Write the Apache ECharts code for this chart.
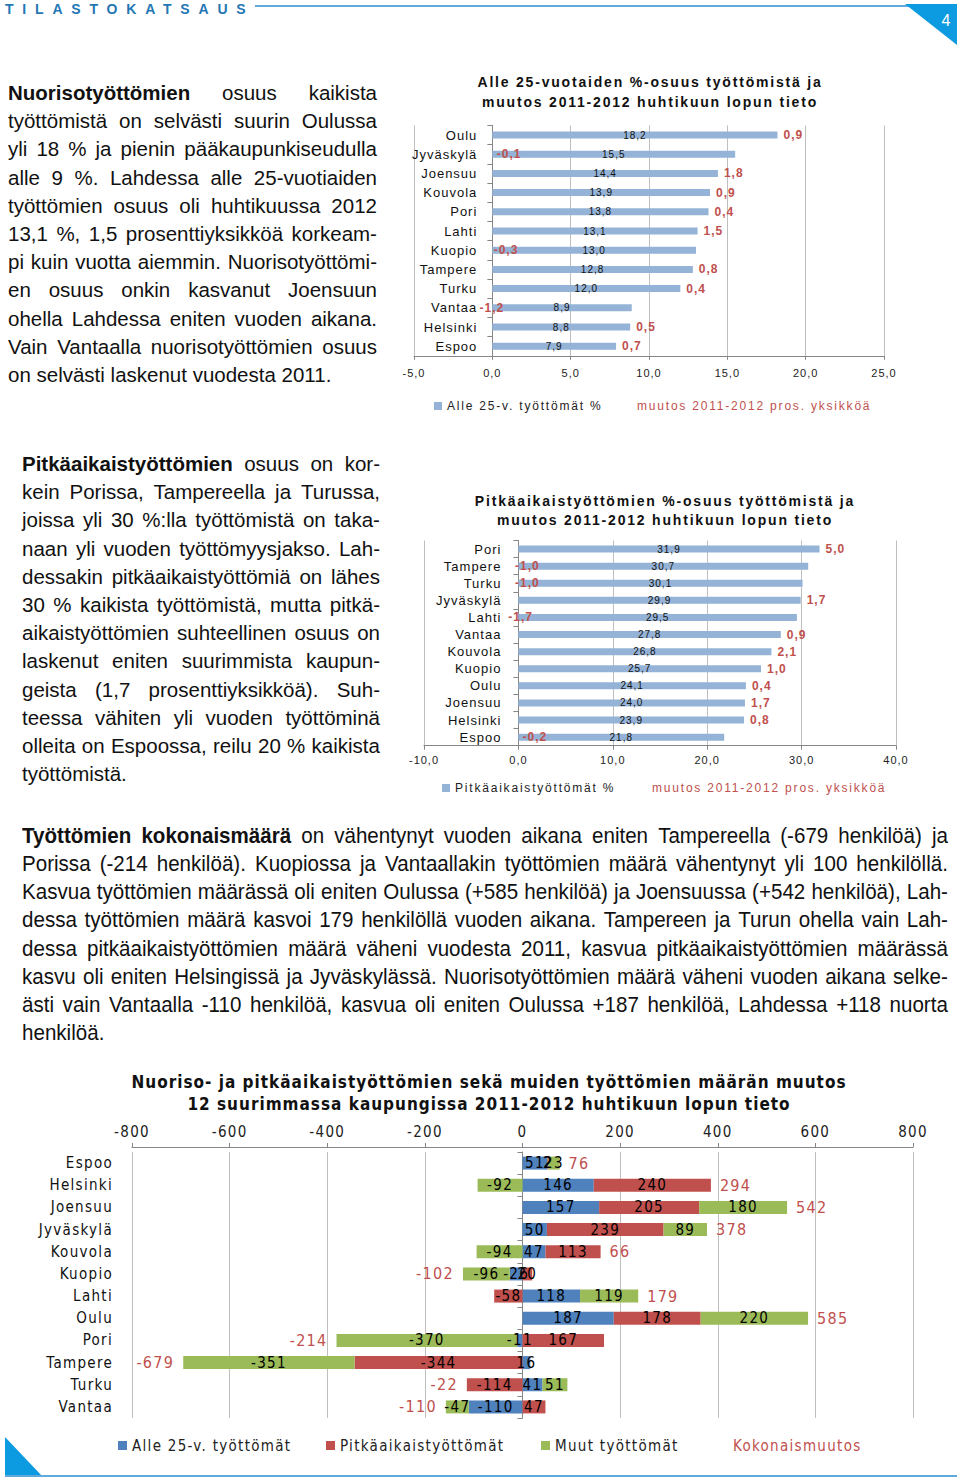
<!DOCTYPE html>
<html>
<head>
<meta charset="utf-8">
<script src="https://cdn.jsdelivr.net/npm/echarts/dist/echarts.min.js"></script>
<style>
  html, body { margin: 0; padding: 0; background: #fff; }
  #page { position: relative; width: 960px; height: 1479px; overflow: hidden; }
  #chart { position: absolute; left: 0; top: 0; width: 960px; height: 1479px; }
  .ln { position: absolute; white-space: nowrap; color: #111; }
  .jl { display: flex; justify-content: space-between; }
  .hdr { position: absolute; left: 5px; top: 1px; font: bold 14px 'Liberation Sans', Arial, sans-serif; letter-spacing: 8.8px; color: #2577B4; }
  #chart text[style*="xspA"] { letter-spacing: 1px; }
  #chart text[style*="xspB"] { letter-spacing: 1.8px; }
  #chart text[style*="xspC"] { letter-spacing: 1.3px; }
</style>
</head>
<body>
<div id="page">
  <div id="chart"></div>
  <div class="hdr">TILASTOKATSAUS</div>
</div>
<script>
// ---------------- DATA ----------------
const youthCities = ['Oulu','Jyväskylä','Joensuu','Kouvola','Pori','Lahti','Kuopio','Tampere','Turku','Vantaa','Helsinki','Espoo'];
const youthShare  = [18.2, 15.5, 14.4, 13.9, 13.8, 13.1, 13.0, 12.8, 12.0, 8.9, 8.8, 7.9];
const youthChange = [0.9, -0.1, 1.8, 0.9, 0.4, 1.5, -0.3, 0.8, 0.4, -1.2, 0.5, 0.7];
const youthTicks  = [-5, 25, 5];

const longCities = ['Pori','Tampere','Turku','Jyväskylä','Lahti','Vantaa','Kouvola','Kuopio','Oulu','Joensuu','Helsinki','Espoo'];
const longShare  = [31.9, 30.7, 30.1, 29.9, 29.5, 27.8, 26.8, 25.7, 24.1, 24.0, 23.9, 21.8];
const longChange = [5.0, -1.0, -1.0, 1.7, -1.7, 0.9, 2.1, 1.0, 0.4, 1.7, 0.8, -0.2];
const longTicks  = [-10, 40, 10];

const cities      = ['Espoo','Helsinki','Joensuu','Jyväskylä','Kouvola','Kuopio','Lahti','Oulu','Pori','Tampere','Turku','Vantaa'];
const youthCount  = [51, 146, 157, 50, 47, -26, 118, 187, -11, 16, 41, -110];
const longCount   = [2, 240, 205, 239, 113, 20, -58, 178, 167, -344, -114, 47];
const otherCount  = [23, -92, 180, 89, -94, -96, 119, 220, -370, -351, 51, -47];
const totalCount  = [76, 294, 542, 378, 66, -102, 179, 585, -214, -679, -22, -110];
const countTicks  = [-800, 800, 200];

// ---------------- TEXT ----------------
const para1 = [
  '**Nuorisotyöttömien** osuus kaikista',
  'työttömistä on selvästi suurin Oulussa',
  'yli 18 % ja pienin pääkaupunkiseudulla',
  'alle 9 %. Lahdessa alle 25-vuotiaiden',
  'työttömien osuus oli huhtikuussa 2012',
  '13,1 %, 1,5 prosenttiyksikköä korkeam-',
  'pi kuin vuotta aiemmin. Nuorisotyöttömi-',
  'en osuus onkin kasvanut Joensuun',
  'ohella Lahdessa eniten vuoden aikana.',
  'Vain Vantaalla nuorisotyöttömien osuus',
  'on selvästi laskenut vuodesta 2011.'
];
const para2 = [
  '**Pitkäaikaistyöttömien** osuus on kor-',
  'kein Porissa, Tampereella ja Turussa,',
  'joissa yli 30 %:lla työttömistä on taka-',
  'naan yli vuoden työttömyysjakso. Lah-',
  'dessakin pitkäaikaistyöttömiä on lähes',
  '30 % kaikista työttömistä, mutta pitkä-',
  'aikaistyöttömien suhteellinen osuus on',
  'laskenut eniten suurimmista kaupun-',
  'geista (1,7 prosenttiyksikköä). Suh-',
  'teessa vähiten yli vuoden työttöminä',
  'olleita on Espoossa, reilu 20 % kaikista',
  'työttömistä.'
];
const para3 = [
  '**Työttömien** **kokonaismäärä** on vähentynyt vuoden aikana eniten Tampereella (-679 henkilöä) ja',
  'Porissa (-214 henkilöä). Kuopiossa ja Vantaallakin työttömien määrä vähentynyt yli 100 henkilöllä.',
  'Kasvua työttömien määrässä oli eniten Oulussa (+585 henkilöä) ja Joensuussa (+542 henkilöä), Lah-',
  'dessa työttömien määrä kasvoi 179 henkilöllä vuoden aikana. Tampereen ja Turun ohella vain Lah-',
  'dessa pitkäaikaistyöttömien määrä väheni vuodesta 2011, kasvua pitkäaikaistyöttömien määrässä',
  'kasvu oli eniten Helsingissä ja Jyväskylässä. Nuorisotyöttömien määrä väheni vuoden aikana selke-',
  'ästi vain Vantaalla -110 henkilöä, kasvua oli eniten Oulussa +187 henkilöä, Lahdessa +118 nuorta',
  'henkilöä.'
];

function addPara(lines, left, width, firstY, lh, fontSize, family, scaleX) {
  const page = document.getElementById('page');
  const sx0 = scaleX || 1;
  lines.forEach((line, i) => {
    const last = i === lines.length - 1;
    const d = document.createElement('div');
    d.className = 'ln' + (last ? '' : ' jl');
    d.style.left = left + 'px';
    d.style.top = (firstY + i * lh - lh / 2) + 'px';
    d.style.height = lh + 'px';
    d.style.lineHeight = lh + 'px';
    d.style.fontSize = fontSize + 'px';
    d.style.fontFamily = family;
    d.style.transformOrigin = '0 0';
    const words = line.split(/\s+/).filter(Boolean).map(w => {
      const bold = w.indexOf('**') >= 0;
      return '<span' + (bold ? ' style="font-weight:bold"' : '') + '>' + w.replace(/\*\*/g, '') + '</span>';
    });
    d.innerHTML = last ? words.join(' ') : words.join('');
    page.appendChild(d);
    let sx = sx0;
    if (!last) {
      // natural width of the words with ordinary spaces; shrink the line if it would not fit
      let natural = 0;
      Array.from(d.children).forEach(c => { natural += c.offsetWidth; });
      natural += (d.children.length - 1) * fontSize * 0.278;
      if (natural * sx > width) sx = width / natural;
      d.style.width = (width / sx) + 'px';
    }
    if (sx !== 1) d.style.transform = 'scaleX(' + sx + ')';
  });
}

const SANS = "'Liberation Sans', Arial, sans-serif";
addPara(para1, 8, 369, 93, 28.2, 20.5, SANS);
addPara(para2, 22, 358, 464, 28.2, 20.5, SANS);
addPara(para3, 22, 926, 836, 28.15, 22, SANS, 0.935);

// ---------------- CHART ----------------
const FA = "'Liberation Sans', xspA, sans-serif";       // 1px letter spacing
const FB = "'Liberation Sans', xspB, sans-serif";       // 1.8px letter spacing
const NA = "'DejaVu Sans Condensed', xspC, sans-serif"; // condensed, 1.3px
const NT = "'DejaVu Sans Condensed', xspA, sans-serif";
const RED = '#C0504D';
const fmt1 = v => Number(v).toFixed(1).replace('.', ',');
const chart = echarts.init(document.getElementById('chart'), null, { renderer: 'svg' });

const axisGray = '#868686';
const gridGray = '#BFBFBF';

function valueAxis(gi, ticks, pos, fmt, fs, fam, margin) {
  return {
    gridIndex: gi, type: 'value', position: pos,
    min: ticks[0], max: ticks[1], interval: ticks[2],
    axisLine: { show: true, onZero: false, lineStyle: { color: axisGray } },
    axisTick: { show: true, length: 4, lineStyle: { color: axisGray } },
    axisLabel: { formatter: fmt, fontSize: fs, fontFamily: fam, color: '#222', margin: margin },
    splitLine: { show: true, showMinLine: true, showMaxLine: true, lineStyle: { color: gridGray, width: 1 } }
  };
}
const grids = [
  { left: 414, top: 125.4, width: 470, height: 230.4 },
  { left: 424, top: 540.5, width: 472, height: 205.2 },
  { left: 132, top: 1152, width: 781, height: 266 }
];
// distance from the grid's left edge to the value 0 on each value axis
const zeroOffset = (g, t) => (0 - t[0]) / (t[1] - t[0]) * g.width;

function catAxis(gi, data, ticks, margin, fs, fam) {
  return {
    gridIndex: gi, type: 'category', data: data, inverse: true, position: 'left',
    offset: -zeroOffset(grids[gi], ticks),
    axisLine: { show: true, onZero: false, lineStyle: { color: axisGray } },
    axisTick: { show: true, length: 5, lineStyle: { color: axisGray } },
    axisLabel: { margin: margin, fontSize: fs, fontFamily: fam, color: '#111' },
    splitLine: { show: false }
  };
}

const legendBase = { itemWidth: 8, itemHeight: 8, padding: 0, selectedMode: false };
const option = {
  animation: false,
  backgroundColor: '#fff',
  title: [
    { text: 'Alle 25-vuotaiden %-osuus työttömistä ja\nmuutos 2011-2012 huhtikuun lopun tieto',
      left: 650, top: 72, textAlign: 'center', padding: 0,
      textStyle: { fontSize: 14, fontWeight: 'bold', lineHeight: 20, fontFamily: FB, color: '#111' } },
    { text: 'Pitkäaikaistyöttömien %-osuus työttömistä ja\nmuutos 2011-2012 huhtikuun lopun tieto',
      left: 665, top: 491, textAlign: 'center', padding: 0,
      textStyle: { fontSize: 14, fontWeight: 'bold', lineHeight: 19, fontFamily: FB, color: '#111' } },
    { text: 'Nuoriso- ja pitkäaikaistyöttömien sekä muiden työttömien määrän muutos\n12 suurimmassa kaupungissa 2011-2012 huhtikuun lopun tieto',
      left: 489, top: 1071, textAlign: 'center', padding: 0,
      textStyle: { fontSize: 17, fontWeight: 'bold', lineHeight: 22, fontFamily: NT, color: '#111' } }
  ],
  legend: [
    Object.assign({ left: 434, top: 400, data: [{ name: 'Alle 25-v. työttömät %', icon: 'rect' }],
      textStyle: { fontSize: 12, fontFamily: FB, color: '#222' } }, legendBase),
    Object.assign({ left: 624, top: 400, data: [{ name: 'muutos 2011-2012 pros. yksikköä', icon: 'none' }],
      textStyle: { fontSize: 12, fontFamily: FB, color: RED } }, legendBase),
    Object.assign({ left: 442, top: 782, data: [{ name: 'Pitkäaikaistyöttömät %', icon: 'rect' }],
      textStyle: { fontSize: 12, fontFamily: FB, color: '#222' } }, legendBase),
    Object.assign({ left: 639, top: 782, data: [{ name: 'muutos 2011-2012 pros. yksikköä', icon: 'none' }],
      textStyle: { fontSize: 12, fontFamily: FB, color: RED } }, legendBase),
    Object.assign({ left: 118, top: 1438, data: [{ name: 'Alle 25-v. työttömät', icon: 'rect' }],
      textStyle: { fontSize: 15, fontFamily: NA, color: '#222' } }, legendBase, { itemWidth: 9, itemHeight: 9 }),
    Object.assign({ left: 326, top: 1438, data: [{ name: 'Pitkäaikaistyöttömät', icon: 'rect' }],
      textStyle: { fontSize: 15, fontFamily: NA, color: '#222' } }, legendBase, { itemWidth: 9, itemHeight: 9 }),
    Object.assign({ left: 541, top: 1438, data: [{ name: 'Muut työttömät', icon: 'rect' }],
      textStyle: { fontSize: 15, fontFamily: NA, color: '#222' } }, legendBase, { itemWidth: 9, itemHeight: 9 }),
    Object.assign({ left: 719, top: 1438, data: [{ name: 'Kokonaismuutos', icon: 'none' }],
      textStyle: { fontSize: 15, fontFamily: NA, color: RED } }, legendBase, { itemWidth: 9, itemHeight: 9 })
  ],
  grid: grids.map(g => Object.assign({ outerBoundsMode: 'none' }, g)),
  xAxis: [
    valueAxis(0, youthTicks, 'bottom', fmt1, 11, FA, 12),
    valueAxis(1, longTicks, 'bottom', fmt1, 11, FA, 9),
    Object.assign(valueAxis(2, countTicks, 'top', v => String(v), 15, NA, 8), { offset: 5 })
  ],
  yAxis: [
    catAxis(0, youthCities, youthTicks, 15, 13, FA),
    catAxis(1, longCities, longTicks, 17, 13, FA),
    { gridIndex: 2, type: 'category', data: cities, inverse: true, position: 'left',
      axisLine: { show: false, onZero: false }, axisTick: { show: false },
      axisLabel: { margin: 19, fontSize: 15, fontFamily: NA, color: '#111' },
      splitLine: { show: false } },
    Object.assign(catAxis(2, cities, countTicks, 10, 15, NA), { axisLabel: { show: false } })
  ],
  series: [
    { type: 'bar', name: 'Alle 25-v. työttömät %', xAxisIndex: 0, yAxisIndex: 0, stack: 'y1',
      data: youthShare, barWidth: 7, itemStyle: { color: '#95B3D7' },
      label: { show: true, position: 'inside', formatter: p => fmt1(p.value), fontSize: 10, fontFamily: FA, color: '#111' } },
    { type: 'bar', name: 'muutos 2011-2012 pros. yksikköä', xAxisIndex: 0, yAxisIndex: 0, stack: 'y1',
      data: youthChange, barWidth: 7, itemStyle: { color: 'rgba(0,0,0,0)' },
      label: { show: true, position: 'insideLeft', distance: 6, formatter: p => fmt1(p.value), fontSize: 12, fontWeight: 'bold', fontFamily: FA, color: RED } },

    { type: 'bar', name: 'Pitkäaikaistyöttömät %', xAxisIndex: 1, yAxisIndex: 1, stack: 'l1',
      data: longShare, barWidth: 7, itemStyle: { color: '#95B3D7' },
      label: { show: true, position: 'inside', formatter: p => fmt1(p.value), fontSize: 10, fontFamily: FA, color: '#111' } },
    { type: 'bar', name: 'muutos 2011-2012 pros. yksikköä', xAxisIndex: 1, yAxisIndex: 1, stack: 'l1',
      data: longChange, barWidth: 7, itemStyle: { color: 'rgba(0,0,0,0)' },
      label: { show: true, position: 'insideLeft', distance: 6, formatter: p => fmt1(p.value), fontSize: 12, fontWeight: 'bold', fontFamily: FA, color: RED } },

    { type: 'bar', name: 'Alle 25-v. työttömät', xAxisIndex: 2, yAxisIndex: 2, stack: 'c3',
      data: youthCount, barWidth: 13, itemStyle: { color: '#4F81BD' },
      label: { show: true, position: 'inside', fontSize: 15, fontFamily: NA, color: '#000' } },
    { type: 'bar', name: 'Pitkäaikaistyöttömät', xAxisIndex: 2, yAxisIndex: 2, stack: 'c3',
      data: longCount, barWidth: 13, itemStyle: { color: '#C0504D' },
      label: { show: true, position: 'inside', fontSize: 15, fontFamily: NA, color: '#000' } },
    { type: 'bar', name: 'Muut työttömät', xAxisIndex: 2, yAxisIndex: 2, stack: 'c3',
      data: otherCount, barWidth: 13, itemStyle: { color: '#9BBB59' },
      label: { show: true, position: 'inside', fontSize: 15, fontFamily: NA, color: '#000' } },
    { type: 'bar', name: 'Kokonaismuutos', xAxisIndex: 2, yAxisIndex: 2, stack: 'c3', clip: true,
      data: totalCount.map(v => ({ value: v, label: { position: v >= 0 ? 'insideLeft' : 'insideRight' } })),
      barWidth: 13, itemStyle: { color: 'rgba(0,0,0,0)' },
      label: { show: true, distance: 9, fontSize: 16, fontFamily: NA, color: RED } }
  ],
  graphic: [
    { type: 'line', silent: true, shape: { x1: 255, y1: 6, x2: 910, y2: 6 }, style: { stroke: '#5FAADA', lineWidth: 2 } },
    { type: 'polygon', silent: true, shape: { points: [[905, 4], [957, 4], [957, 45]] }, style: { fill: '#0C9BE0' } },
    { type: 'text', silent: true, style: { text: '4', x: 946, y: 20, fill: '#fff', font: '16px ' + SANS, textAlign: 'center', textVerticalAlign: 'middle' } },
    { type: 'polygon', silent: true, shape: { points: [[5, 1437], [5, 1476], [42, 1476]] }, style: { fill: '#0C9BE0' } },
    { type: 'line', silent: true, shape: { x1: 5, y1: 1476, x2: 957, y2: 1476 }, style: { stroke: '#5FAADA', lineWidth: 2 } }
  ]
};
chart.setOption(option);
</script>
</body>
</html>
